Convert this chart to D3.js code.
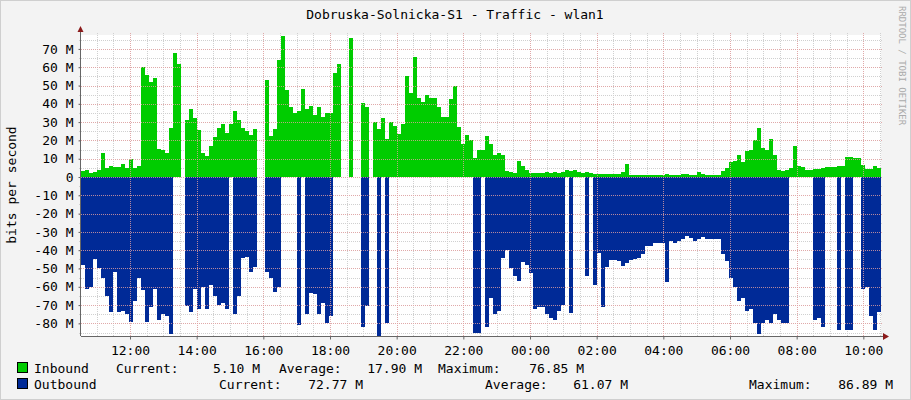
<!DOCTYPE html>
<html>
<head>
<meta charset="utf-8">
<script src="https://cdn.jsdelivr.net/npm/d3@7"></script>
<style>
  body { margin: 0; background: #f3f3f3; }
  svg text { font-family: "DejaVu Sans Mono", monospace; fill: #000; }
</style>
</head>
<body>
<div id="chart"></div>
<script>
// samples every 7.2 minutes, values in Mbit/s, null = no data
const inbound = [
  3.3, 4, 2.4, 3, 3.8, 13, 5, 6, 5.5, 5.5, 7, 5, 10, 5, 6, 60, 56, 52, 54, 15.3,
  15, 13.3, 27, 68, 62, null, 31, 37, 32, 25.7, 13, 11.5, 17, 22, 26.6, 29, 24, 29, 36, 31,
  27, 25, 23, 26, null, null, 53, 22.4, 26, 64, 77, 47.5, 38.4, 35, 36, 48, 37, 39, 34, 38,
  33, 35, 35, 57, 62, null, null, 76, null, null, 40.6, 38.5, null, 30, 26, 32, 21, 30, 27.8, 23.5,
  29, 55, 45.7, 65.7, 43, 41, 44.8, 43, 43, 38, 33, 33, 42.4, 50, 27.5, 18, 23, 20, 10.5, 14.7,
  14.7, 22.4, 18, 12, 13, 12, 3.3, 3, 2.4, 8.7, 5.8, 4, 2, 2, 2, 2, 2.5, 2, 2.5, 2,
  2.5, 4, 3.3, 3.8, 3, 2.4, 3, 2.4, 1.5, 1.5, 1.8, 1.5, 1.8, 1.5, 1.6, 2.5, 7, 1.1, 1.1, 1.1,
  1.1, 1.1, 1.1, 1.1, 1.1, 1.1, 1.8, 1.1, 1.1, 1.1, 1.5, 1.5, 1.2, 1.2, 2.7, 1.6, 1.3, 1, 1, 1,
  3.3, 5, 8, 9, 12, 8, 14, 14.5, 20, 27, 16, 15, 21, 12, 4, 3.3, 4, 4.7, 17, 6,
  5.5, 4, 3.8, 4.4, 4.4, 5, 5.6, 5.6, 5.6, 5.8, 6, 11, 11, 10.2, 10.2, 6.5, 4.2, 4.2, 6, 5.1
];
const outbound = [
  -48, -61, -60, -45, -50, -55, -65, -74, -52, -74, -73, -75, -79, -68, -55, -62, -79, -71, -61, -78,
  -75, -76, -86, null, null, null, -70.5, -73.6, -61, -72, -60, -72, -59, -65, -70, -69, -72, null, -75, -65,
  -44, -43.5, -52, -49, null, null, -51.7, -55, -63, -60, null, null, null, null, -81, null, -75, -63.5, -64, -75,
  -69, -80, -76, null, null, null, null, null, null, null, -82, -70.5, null, null, -87, null, -80, null, null, null,
  null, null, null, null, null, null, null, null, null, null, null, null, null, null, null, null, null, null, -85, -85,
  null, -82, -66, -75, -73, -44, -40, -50, -54, -57, -46.6, -48, -52.6, -72, -71, -71, -75, -77, -78, -73,
  -70, null, -74.5, null, null, null, -54, null, -59, -41.3, -71, -49, -45.5, -45.6, -46, -48.5, -47, -45.4, -45, -44,
  -42, -37.7, -37.7, -36.2, -36.2, -36.2, -57.5, -34.8, -35.9, -34.8, -34, -32, -33.5, -35, -34, -33, -34, -34, -34, -34,
  -42, -46, -55, -60, -67.6, -66, -73, -72, -80, -86, -80, -78, -80, -75, -78, -80, -80, null, null, null,
  null, null, null, -78, -77, -82, null, null, null, -83.6, null, -83.6, -83.6, null, null, -61.4, -60, -76, -83.6, -73.6
];
const yTicks = [-80, -70, -60, -50, -40, -30, -20, -10, 0, 10, 20, 30, 40, 50, 60, 70];
const legendRows = [
  {name: "Inbound", current: "5.10 M", average: "17.90 M", maximum: "76.85 M"},
  {name: "Outbound", current: "72.77 M", average: "61.07 M", maximum: "86.89 M"}
];
const title = "Dobruska-Solnicka-S1 - Traffic - wlan1";

const W = 911, H = 400;
const pLeft = 81, pRight = 881, pTop = 35, pBottom = 336;
const stepMin = 7.2;
const start = new Date(2013, 0, 1, 10, 31, 48);
const end = new Date(start.getTime() + 24 * 3600e3);

const x = d3.scaleTime().domain([start, end]).range([pLeft, pRight]);
const y = d3.scaleLinear().domain([-86.89, 77.6]).range([pBottom, pTop]);

const svg = d3.select('#chart').append('svg').attr('width', W).attr('height', H);
svg.append('rect').attr('x', 0.5).attr('y', 0.5).attr('width', W - 1).attr('height', H - 1)
  .attr('fill', '#f3f3f3').attr('stroke', '#cfcfcf');
svg.append('rect').attr('x', pLeft).attr('y', pTop).attr('width', pRight - pLeft).attr('height', pBottom - pTop).attr('fill', '#fff');

// minor grid
const minorT = d3.timeMinute.every(30).range(start, end);
const majorT = d3.timeHour.every(2).range(start, end);
const grid = svg.append('g');
minorT.forEach(t => grid.append('line').attr('x1', Math.round(x(t)) + 0.5).attr('x2', Math.round(x(t)) + 0.5)
  .attr('y1', pTop - 2).attr('y2', pBottom).attr('stroke', '#d0d0d0').attr('stroke-dasharray', '1,1'));
d3.range(-85, 78, 5).forEach(v => grid.append('line').attr('x1', pLeft - 2).attr('x2', pRight + 2)
  .attr('y1', Math.round(y(v)) + 0.5).attr('y2', Math.round(y(v)) + 0.5).attr('stroke', '#d0d0d0').attr('stroke-dasharray', '1,1'));

// areas: one continuous step path per run of defined samples
function pts(vals) {
  const out = [];
  vals.forEach((v, i) => {
    const t0 = new Date(start.getTime() + i * stepMin * 60e3);
    const t1 = new Date(start.getTime() + (i + 1) * stepMin * 60e3);
    out.push({t: t0, v}, {t: t1, v});
    if (v != null && vals[i + 1] == null) out.push({t: t1, v: null});
  });
  return out;
}
const area = d3.area().defined(d => d.v != null).x(d => x(d.t)).y0(y(0)).y1(d => y(d.v));
svg.append('path').datum(pts(inbound)).attr('d', area).attr('fill', '#00cc00').attr('shape-rendering', 'crispEdges');
svg.append('path').datum(pts(outbound)).attr('d', area).attr('fill', '#002a97').attr('shape-rendering', 'crispEdges');

// major grid on top
majorT.forEach(t => svg.append('line').attr('x1', Math.round(x(t)) + 0.5).attr('x2', Math.round(x(t)) + 0.5)
  .attr('y1', pTop - 2).attr('y2', pBottom).attr('stroke', '#e5a0a0').attr('stroke-dasharray', '1,1').attr('opacity', 0.8));
yTicks.forEach(v => svg.append('line').attr('x1', pLeft - 2).attr('x2', pRight + 2)
  .attr('y1', Math.round(y(v)) + 0.5).attr('y2', Math.round(y(v)) + 0.5).attr('stroke', '#e5a0a0').attr('stroke-dasharray', '1,1').attr('opacity', 0.8));

// axes
const xAxis = d3.axisBottom(x).tickValues(majorT).tickFormat(d3.timeFormat('%H:%M')).tickSize(3).tickPadding(4);
svg.append('g').attr('transform', `translate(0,${pBottom + 0.5})`).call(xAxis)
  .call(g => g.select('.domain').attr('d', `M${pLeft},0H${pRight + 4}`).attr('stroke', '#666'))
  .call(g => g.selectAll('.tick line').attr('stroke', '#666'))
  .call(g => g.selectAll('text').attr('font-size', 13).attr('font-family', 'DejaVu Sans Mono').attr('dy', '0.9em'));
const yAxis = d3.axisLeft(y).tickValues(yTicks).tickFormat(d => d === 0 ? '0' : d + ' M').tickSize(2).tickPadding(5);
svg.append('g').attr('transform', `translate(${pLeft - 0.5},0)`).call(yAxis)
  .call(g => g.select('.domain').attr('d', `M0,${pBottom}V${pTop - 4}`).attr('stroke', '#666'))
  .call(g => g.selectAll('.tick line').attr('stroke', '#666'))
  .call(g => g.selectAll('text').attr('font-size', 13).attr('font-family', 'DejaVu Sans Mono'));
svg.append('path').attr('d', `M${pLeft - 3.5},${pTop - 3}L${pLeft - 0.5},${pTop - 9}L${pLeft + 2.5},${pTop - 3}Z`).attr('fill', '#8b1a1a');
svg.append('path').attr('d', `M${pRight + 2},${pBottom - 3}L${pRight + 8},${pBottom + 0.5}L${pRight + 2},${pBottom + 4}Z`).attr('fill', '#8b1a1a');

// texts
svg.append('text').attr('x', 455).attr('y', 19).attr('text-anchor', 'middle').attr('font-size', 13).text(title);
svg.append('text').attr('transform', 'translate(16,185) rotate(-90)').attr('text-anchor', 'middle').attr('font-size', 13).text('bits per second');
svg.append('text').attr('transform', 'translate(899,6) rotate(90)').attr('font-size', 9).style('fill', '#aaa').text('RRDTOOL / TOBI OETIKER');

// legend
const colors = ['#00cc00', '#002a97'];
const cols = [
  [{x: 116, k: 'Current:'}, {x: 260, v: 'current'}, {x: 279, k: 'Average:'}, {x: 422, v: 'average'}, {x: 438, k: 'Maximum:'}, {x: 584, v: 'maximum'}],
  [{x: 219, k: 'Current:'}, {x: 363, v: 'current'}, {x: 485, k: 'Average:'}, {x: 628, v: 'average'}, {x: 749, k: 'Maximum:'}, {x: 893, v: 'maximum'}]
];
legendRows.forEach((r, i) => {
  const ly = 368 + i * 16;
  svg.append('rect').attr('x', 17.5).attr('y', ly - 5.5).attr('width', 10).attr('height', 10)
    .attr('fill', colors[i]).attr('stroke', '#000');
  svg.append('text').attr('x', 34).attr('y', ly + 5).attr('font-size', 13).text(r.name);
  cols[i].forEach(c => {
    svg.append('text').attr('x', c.x).attr('y', ly + 5).attr('font-size', 13)
      .attr('text-anchor', c.v ? 'end' : 'start').text(c.v ? r[c.v] : c.k);
  });
});
</script>
</body>
</html>
